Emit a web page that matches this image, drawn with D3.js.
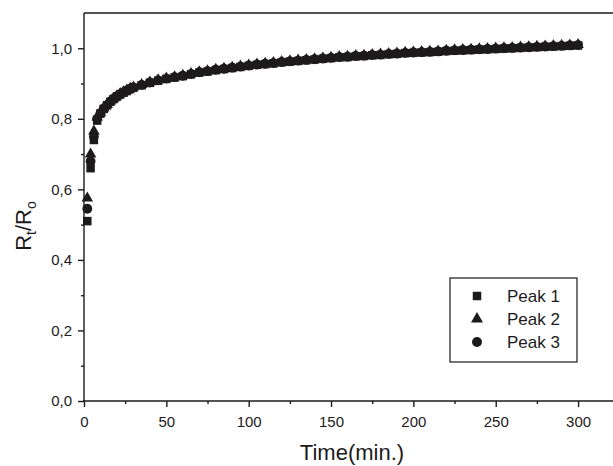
<!DOCTYPE html>
<html>
<head>
<meta charset="utf-8">
<script src="https://cdn.jsdelivr.net/npm/d3@7"></script>
<style>
  html, body { margin: 0; padding: 0; background: #fff; }
  svg { display: block; font-family: "Liberation Sans", Arial, sans-serif; }
</style>
</head>
<body>
<svg id="chart" width="613" height="466"></svg>
<script>
// ---- data ----
const times = [2,4,6,8,10,12,14,16,18,20,22,24,26,28,30,
  35,40,45,50,55,60,65,70,75,80,85,90,95,100,105,110,115,120,125,130,135,140,145,150,
  155,160,165,170,175,180,185,190,195,200,205,210,215,220,225,230,235,240,245,250,
  255,260,265,270,275,280,285,290,295,300];

const peak1 = [0.51,0.66,0.74,0.795,0.815,0.828,0.838,0.848,0.856,0.863,0.869,0.874,0.879,0.884,0.888,
  0.895,0.902,0.908,0.913,0.917,0.921,0.926,0.931,0.934,0.938,0.941,0.944,0.947,0.950,0.953,0.955,0.957,0.960,0.962,0.964,0.966,0.968,0.970,0.972,
  0.974,0.975,0.977,0.978,0.980,0.981,0.983,0.984,0.986,0.987,0.988,0.989,0.990,0.992,0.993,0.994,0.995,0.996,0.997,0.998,
  0.999,1.000,1.001,1.002,1.003,1.004,1.005,1.006,1.007,1.008];

const peak2 = [0.575,0.70,0.765,0.805,0.817,0.830,0.840,0.850,0.858,0.865,0.871,0.876,0.881,0.886,0.890,
  0.897,0.904,0.910,0.915,0.919,0.923,0.928,0.933,0.936,0.940,0.943,0.946,0.949,0.952,0.955,0.957,0.959,0.962,0.964,0.966,0.968,0.970,0.972,0.974,
  0.976,0.977,0.979,0.980,0.982,0.983,0.985,0.986,0.988,0.989,0.990,0.991,0.992,0.994,0.995,0.996,0.997,0.998,0.999,1.000,
  1.001,1.002,1.003,1.004,1.005,1.006,1.007,1.008,1.009,1.010];

const peak3 = [0.545,0.68,0.75,0.80,0.816,0.829,0.839,0.849,0.857,0.864,0.870,0.875,0.880,0.885,0.889,
  0.896,0.903,0.909,0.914,0.918,0.922,0.927,0.932,0.935,0.939,0.942,0.945,0.948,0.951,0.954,0.956,0.958,0.961,0.963,0.965,0.967,0.969,0.971,0.973,
  0.975,0.976,0.978,0.979,0.981,0.982,0.984,0.985,0.987,0.988,0.989,0.990,0.991,0.993,0.994,0.995,0.996,0.997,0.998,0.999,
  1.000,1.001,1.002,1.003,1.004,1.005,1.006,1.007,1.008,1.009];

const seriesNames = ["Peak 1", "Peak 2", "Peak 3"];
const xMajorTicks = [0,50,100,150,200,250,300];
const xMinorTicks = [25,75,125,175,225,275];
const yMajorTicks = [0,0.2,0.4,0.6,0.8,1.0];
const yTickLabels = ["0,0","0,2","0,4","0,6","0,8","1,0"];
const yMinorTicks = [0.1,0.3,0.5,0.7,0.9];

// ---- layout ----
const svg = d3.select("#chart");
const ink = "#1c1a1b";
const xs = d3.scaleLinear().domain([0, 324]).range([84, 617.6]);
const ys = d3.scaleLinear().domain([0, 1.1]).range([401, 13]);

// frame (top line)
svg.append("line").attr("x1", 84).attr("x2", 613).attr("y1", 13).attr("y2", 13)
  .attr("stroke", ink).attr("stroke-width", 1.3);

// x axis
const gx = svg.append("g").attr("transform", "translate(0,401)");
gx.call(d3.axisBottom(xs).tickValues(xMajorTicks).tickSize(6).tickSizeOuter(0).tickFormat(d3.format("d")));
gx.append("g").call(d3.axisBottom(xs).tickValues(xMinorTicks).tickSize(3).tickFormat(""));
gx.selectAll(".domain").remove();
gx.append("line").attr("x1", 83).attr("x2", 613).attr("stroke", ink).attr("stroke-width", 1.6);
gx.selectAll("line").attr("stroke", ink).attr("stroke-width", 1.4);
gx.selectAll("text").attr("font-size", 15).attr("fill", ink).attr("y", 26).attr("dy", 0);

// y axis
const gy = svg.append("g").attr("transform", "translate(84,0)");
gy.call(d3.axisLeft(ys).tickValues(yMajorTicks).tickSize(6).tickSizeOuter(0)
  .tickFormat((d, i) => yTickLabels[i]));
gy.append("g").call(d3.axisLeft(ys).tickValues(yMinorTicks).tickSize(3).tickFormat(""));
gy.selectAll(".domain").remove();
gy.append("line").attr("y1", 13).attr("y2", 402).attr("stroke", ink).attr("stroke-width", 1.6);
gy.selectAll("line").attr("stroke", ink).attr("stroke-width", 1.4);
gy.selectAll("text").attr("font-size", 15).attr("fill", ink).attr("x", -12);

// axis titles
svg.append("text").attr("x", 352).attr("y", 460).attr("text-anchor", "middle")
  .attr("font-size", 22).attr("fill", ink).text("Time(min.)");

const yl = svg.append("text").attr("transform", "translate(31,226) rotate(-90)")
  .attr("text-anchor", "middle").attr("font-size", 22).attr("fill", ink);
yl.append("tspan").text("R");
yl.append("tspan").attr("font-size", 14).attr("dy", 5).text("t");
yl.append("tspan").attr("dy", -5).text("/R");
yl.append("tspan").attr("font-size", 14).attr("dy", 5).text("o");

// ---- marks ----
const symbols = [d3.symbolSquare, d3.symbolTriangle, d3.symbolCircle];
const sizes = [72, 58, 76];
const allSeries = [peak1, peak2, peak3];

allSeries.forEach((vals, si) => {
  const sym = d3.symbol().type(symbols[si]).size(sizes[si]);
  svg.append("g").selectAll("path")
    .data(times.map((t, i) => ({ t, v: vals[i] })))
    .join("path")
    .attr("d", sym)
    .attr("transform", d => `translate(${xs(d.t)},${ys(d.v)})`)
    .attr("fill", ink);
});

// ---- legend ----
const lg = svg.append("g");
lg.append("rect").attr("x", 450).attr("y", 278).attr("width", 127).attr("height", 84)
  .attr("fill", "#fff").attr("stroke", ink).attr("stroke-width", 1.2);
const legendSizes = [72, 62, 78];
const rowY = [296, 319, 342];
seriesNames.forEach((name, i) => {
  lg.append("path").attr("d", d3.symbol().type(symbols[i]).size(legendSizes[i]))
    .attr("transform", `translate(477,${rowY[i]})`).attr("fill", ink);
  lg.append("text").attr("x", 507).attr("y", rowY[i]).attr("dy", "0.35em")
    .attr("font-size", 17).attr("fill", ink).text(name);
});
</script>
</body>
</html>
